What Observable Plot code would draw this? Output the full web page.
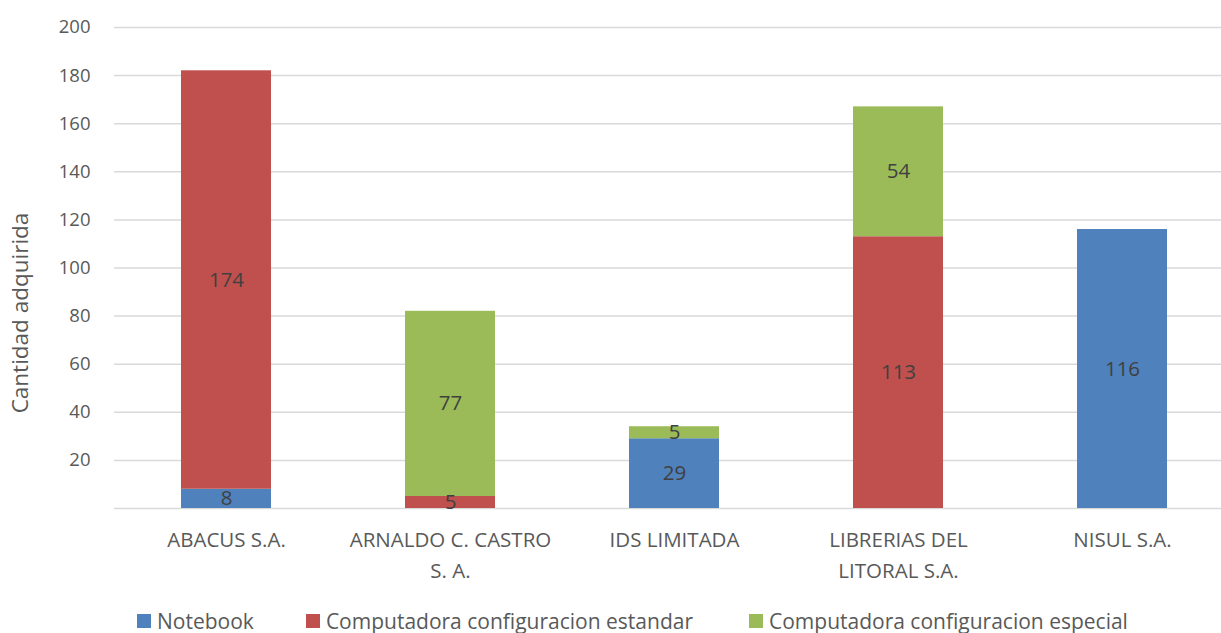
<!DOCTYPE html>
<html><head><meta charset="utf-8">
<script src="https://cdn.jsdelivr.net/npm/d3@7"></script>
<script src="https://cdn.jsdelivr.net/npm/@observablehq/plot@0.6"></script>
<style>
body{margin:0;background:#fff;font-family:"Open Sans",sans-serif;}
#wrap{position:relative;width:1221px;height:633px;}
#legend{position:absolute;top:606px;left:137px;display:flex;font-size:21px;color:#595959;line-height:30px;}
#legend span.i{display:flex;align-items:center;gap:6px;}
#legend span.s{width:14px;height:14px;display:inline-block;}
</style></head>
<body><div id="wrap"><div id="chart"></div><div id="legend"></div></div>
<script>
const categories = ["ABACUS S.A.", "ARNALDO C. CASTRO\nS. A.", "IDS LIMITADA", "LIBRERIAS DEL\nLITORAL S.A.", "NISUL S.A."];
const series = ["Notebook", "Computadora configuracion estandar", "Computadora configuracion especial"];
const colors = ["#4F81BD", "#C0504D", "#9BBB59"];
const notebook = [8, 0, 29, 0, 116];
const estandar = [174, 5, 0, 113, 0];
const especial = [0, 77, 5, 54, 0];
const yTicks = [20, 40, 60, 80, 100, 120, 140, 160, 180, 200];

const vals = [notebook, estandar, especial];
const data = [];
series.forEach((s, si) => categories.forEach((c, ci) => {
  if (vals[si][ci] > 0) data.push({cat: c, serie: s, value: vals[si][ci]});
}));

const chart = Plot.plot({
  width: 1221, height: 600,
  marginLeft: 114, marginRight: 0, marginTop: 27, marginBottom: 92,
  style: {fontFamily: "'Open Sans', sans-serif", fontSize: "18px", color: "#595959"},
  x: {domain: categories, range: [114, 1234], paddingInner: 0.6, paddingOuter: 0.3, align: 0.5, label: null},
  y: {domain: [0, 200], label: null},
  color: {domain: series, range: colors},
  marks: [
    Plot.ruleY([0, ...yTicks], {stroke: "#d9d9d9", strokeWidth: 1.5}),
    Plot.axisY(yTicks, {tickSize: 0, tickPadding: 24, fontSize: 18.5, fill: "#595959", label: null}),
    Plot.axisX({tickSize: 0, tickPadding: 17, fontSize: 20.5, fill: "#595959", lineHeight: 1.5, label: null}),
    Plot.barY(data, Plot.stackY({x: "cat", y: "value", fill: "serie", order: series})),
    Plot.text(data, Plot.stackY({x: "cat", y: "value", z: "serie", order: series, text: d => String(d.value), fill: "#404040", fontSize: 20.5})),
    Plot.text(["Cantidad adquirida"], {frameAnchor: "left", dx: -94, dy: 45, rotate: -90, textAnchor: "middle", fontSize: 22.5, fill: "#595959"})
  ]
});
document.getElementById("chart").appendChild(chart);

const lg = document.getElementById("legend");
const gaps = [52, 56, 0];
series.forEach((s, i) => {
  const it = document.createElement("span"); it.className = "i";
  it.style.marginRight = gaps[i] + "px";
  const sw = document.createElement("span"); sw.className = "s"; sw.style.background = colors[i];
  const t = document.createElement("span"); t.textContent = s;
  it.appendChild(sw); it.appendChild(t); lg.appendChild(it);
});
</script></body></html>
